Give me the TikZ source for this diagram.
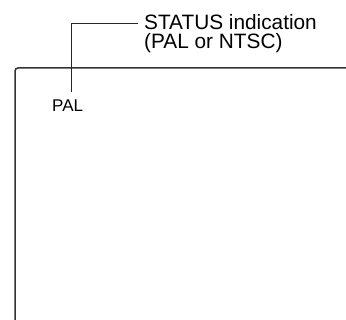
\documentclass[tikz,border=0pt]{standalone}
\usepackage{fontspec}
\setmainfont{Liberation Sans}
\begin{document}
\begin{tikzpicture}[x=1pt,y=-1pt,
  frame/.style={line width=1.5pt,draw=black!80,rounded corners=3pt},
  leader/.style={line width=0.9pt,draw=black!85},
  lbl/.style={inner sep=0pt,align=left,font=\fontsize{20.8}{19}\selectfont},
  small/.style={inner sep=0pt,font=\fontsize{17}{20}\selectfont}]
\useasboundingbox (0,0) rectangle (346,320);
\draw[frame] (15,320) -- (15,68) -- (346,68);
\node[lbl,anchor=north west] (status) at (144,14) {STATUS indication\\(PAL or NTSC)};
\node[small,anchor=north west] (pal) at (52,100) {PAL};
\coordinate (bend) at (71,23);
\coordinate (tip) at (71,92);
\coordinate (lend) at (138,23);
\draw[leader] (lend) -- (bend) -- (tip);
\end{tikzpicture}
\end{document}
